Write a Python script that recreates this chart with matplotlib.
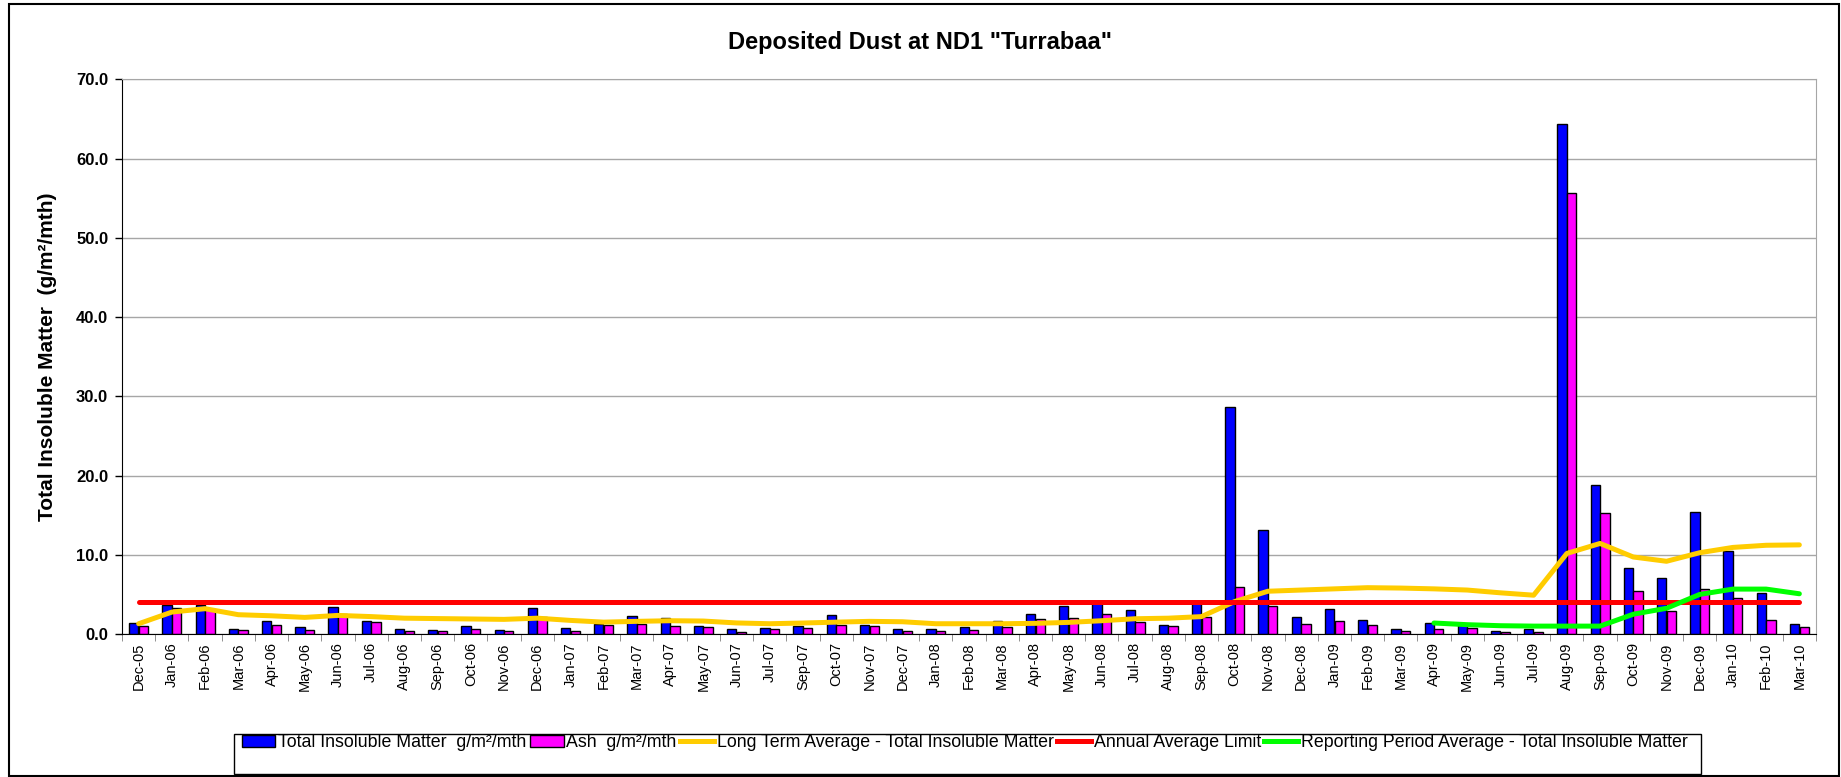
import numpy as np
import matplotlib
matplotlib.use("Agg")
import matplotlib.pyplot as plt
from matplotlib.patches import Rectangle, Patch
from matplotlib.lines import Line2D

plt.rcParams['font.family'] = ['Liberation Sans', 'DejaVu Sans']

# data
months = ["Dec-05", "Jan-06", "Feb-06", "Mar-06", "Apr-06", "May-06", "Jun-06", "Jul-06",
          "Aug-06", "Sep-06", "Oct-06", "Nov-06", "Dec-06", "Jan-07", "Feb-07", "Mar-07",
          "Apr-07", "May-07", "Jun-07", "Jul-07", "Sep-07", "Oct-07", "Nov-07", "Dec-07",
          "Jan-08", "Feb-08", "Mar-08", "Apr-08", "May-08", "Jun-08", "Jul-08", "Aug-08",
          "Sep-08", "Oct-08", "Nov-08", "Dec-08", "Jan-09", "Feb-09", "Mar-09", "Apr-09",
          "May-09", "Jun-09", "Jul-09", "Aug-09", "Sep-09", "Oct-09", "Nov-09", "Dec-09",
          "Jan-10", "Feb-10", "Mar-10"]

total_insoluble = [1.4, 3.7, 3.7, 0.67, 1.7, 0.88, 3.4, 1.7, 0.6, 0.48, 1.0, 0.45, 3.3,
                   0.8, 1.3, 2.3, 2.0, 1.05, 0.59, 0.8, 0.97, 2.4, 1.13, 0.67, 0.59, 0.88,
                   1.64, 2.5, 3.5, 3.9, 3.07, 1.18, 3.9, 28.6, 13.1, 2.2, 3.15, 1.76, 0.59,
                   1.39, 1.2, 0.4, 0.6, 64.3, 18.85, 8.28, 7.02, 15.34, 10.5, 5.17, 1.26]

ash = [1.0, 3.25, 3.2, 0.55, 1.18, 0.46, 2.5, 1.47, 0.42, 0.36, 0.63, 0.36, 2.2,
       0.44, 1.2, 1.3, 1.05, 0.88, 0.2, 0.59, 0.76, 1.2, 0.97, 0.34, 0.42, 0.5,
       0.92, 1.85, 2.0, 2.5, 1.47, 0.97, 2.2, 5.9, 3.5, 1.26, 1.64, 1.18, 0.38,
       0.63, 0.8, 0.24, 0.28, 55.7, 15.25, 5.44, 2.88, 5.67, 4.54, 1.75, 0.9]

long_term_avg = [1.3, 2.77, 3.2, 2.44, 2.3, 2.1, 2.35, 2.2, 2.0, 1.95, 1.9, 1.85, 2.0,
                 1.72, 1.5, 1.6, 1.68, 1.64, 1.4, 1.3, 1.39, 1.5, 1.6, 1.55, 1.3, 1.3,
                 1.3, 1.35, 1.47, 1.68, 1.93, 2.0, 2.2, 4.1, 5.4, 5.55, 5.7, 5.85, 5.8,
                 5.7, 5.55, 5.2, 4.9, 10.17, 11.43, 9.72, 9.18, 10.26, 10.93, 11.2, 11.25]

annual_limit = [4.0] * len(months)

reporting_avg = [np.nan] * 39 + [1.39, 1.18, 1.05, 1.0, 1.0, 1.0, 2.5, 3.25, 5.0,
                                 5.67, 5.67, 5.08]

fig = plt.figure(figsize=(18.41, 7.77), dpi=100)
ax = fig.add_axes([0.0663, 0.184, 0.9201, 0.714])

x = np.arange(len(months))
w = 0.28
ax.bar(x - 0.145, total_insoluble, w, color='#0000FF', edgecolor='black', linewidth=1, zorder=2)
ax.bar(x + 0.145, ash, w, color='#FF00FF', edgecolor='black', linewidth=1, zorder=2)
ax.plot(x, long_term_avg, color='#FFCC00', lw=3.6, zorder=3, solid_capstyle='round')
ax.plot(x, annual_limit, color='#FF0000', lw=3.6, zorder=3, solid_capstyle='round')
ax.plot(x, reporting_avg, color='#00FF00', lw=3.6, zorder=4, solid_capstyle='round')

ax.set_xlim(-0.5, len(months) - 0.5)
ax.set_ylim(0, 70)
ax.set_yticks(np.arange(0, 71, 10))
ax.set_yticklabels([f"{v:.1f}" for v in np.arange(0, 71, 10)], fontweight='bold', fontsize=12)
ax.yaxis.grid(True, color='#a6a6a6', lw=1)
ax.set_axisbelow(True)
ax.tick_params(axis='y', length=5, width=1, pad=5)

ax.set_xticks(x)
ax.set_xticklabels(months, rotation=90, fontsize=10.5)
ax.set_xticks(np.arange(-0.5, len(months), 1), minor=True)
ax.tick_params(axis='x', which='major', length=0, pad=6)
ax.tick_params(axis='x', which='minor', length=5, color='#808080')

for s in ['top', 'right']:
    ax.spines[s].set_color('#a6a6a6')
ax.spines['left'].set_color('black')
ax.spines['bottom'].set_color('black')

ax.set_ylabel("Total Insoluble Matter  (g/m²/mth)", fontweight='bold', fontsize=15, labelpad=14)
fig.text(0.5, 0.945, 'Deposited Dust at ND1 "Turrabaa"', ha='center', va='center',
         fontsize=17, fontweight='bold')

# legend
handles = [Patch(facecolor='#0000FF', edgecolor='black'),
           Patch(facecolor='#FF00FF', edgecolor='black'),
           Line2D([], [], color='#FFCC00', lw=3.6),
           Line2D([], [], color='#FF0000', lw=3.6),
           Line2D([], [], color='#00FF00', lw=3.6)]
labels = ["Total Insoluble Matter  g/m²/mth", "Ash  g/m²/mth",
          "Long Term Average - Total Insoluble Matter", "Annual Average Limit",
          "Reporting Period Average - Total Insoluble Matter"]
fig.patches.append(Rectangle((0.127, 0.004), 0.797, 0.051, transform=fig.transFigure,
                             fill=False, edgecolor='black', lw=1))
fig.legend(handles, labels, ncol=5, frameon=False, loc='center',
           bbox_to_anchor=(0.524, 0.044), fontsize=12.8, handlelength=1.9,
           handletextpad=0.15, columnspacing=0.2)

# outer border
fig.patches.append(Rectangle((0.005, 0.001), 0.994, 0.9938, transform=fig.transFigure,
                             fill=False, edgecolor='black', lw=1.5))

fig.savefig("out.png", dpi=100)
